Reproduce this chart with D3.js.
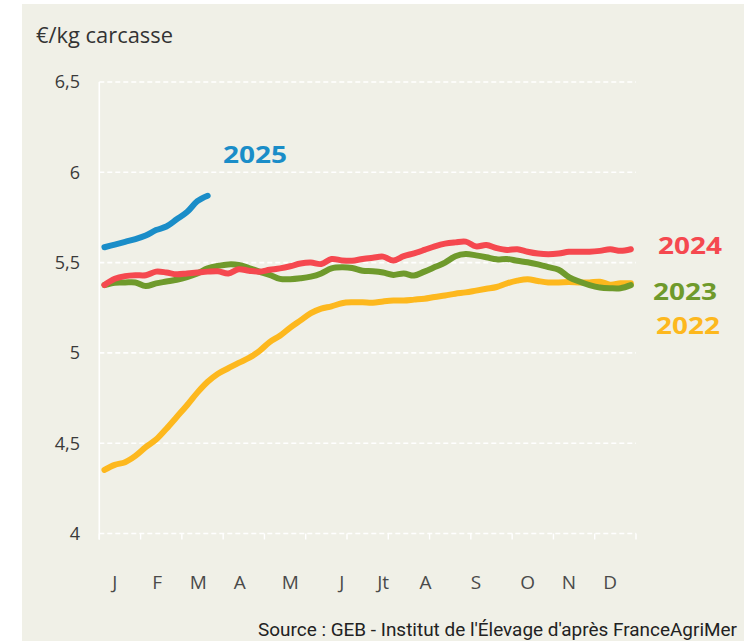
<!DOCTYPE html>
<html>
<head>
<meta charset="utf-8">
<script src="https://cdn.jsdelivr.net/npm/d3@7"></script>
<style>
  body { margin: 0; background: #fff; }
  svg { display: block; }
</style>
</head>
<body>
<svg width="744" height="641"></svg>
<script>
var svg = d3.select("svg"),
    width  = +svg.attr("width"),
    height = +svg.attr("height");

// weekly prices, €/kg carcasse
var weeks = d3.range(1, 53);
var y2022 = [4.352, 4.38, 4.395, 4.43, 4.478, 4.52, 4.58, 4.645, 4.71, 4.78, 4.84, 4.885, 4.915,
             4.945, 4.972, 5.01, 5.06, 5.095, 5.14, 5.18, 5.22, 5.245, 5.258, 5.275, 5.28, 5.28,
             5.278, 5.285, 5.29, 5.29, 5.295, 5.30, 5.31, 5.318, 5.328, 5.335, 5.345, 5.355, 5.365,
             5.385, 5.40, 5.408, 5.398, 5.39, 5.39, 5.392, 5.39, 5.39, 5.394, 5.378, 5.385, 5.385];
var y2023 = [5.376, 5.389, 5.39, 5.39, 5.37, 5.385, 5.395, 5.405, 5.42, 5.44, 5.468, 5.482, 5.49,
             5.487, 5.47, 5.45, 5.432, 5.41, 5.408, 5.413, 5.422, 5.44, 5.468, 5.474, 5.47, 5.455,
             5.452, 5.445, 5.432, 5.44, 5.428, 5.45, 5.475, 5.50, 5.535, 5.547, 5.54, 5.53, 5.518,
             5.52, 5.51, 5.502, 5.49, 5.475, 5.46, 5.42, 5.395, 5.375, 5.362, 5.358, 5.358, 5.375];
var y2024 = [5.376, 5.41, 5.425, 5.43, 5.43, 5.45, 5.445, 5.435, 5.44, 5.445, 5.45, 5.452, 5.44,
             5.463, 5.455, 5.45, 5.46, 5.468, 5.48, 5.495, 5.50, 5.492, 5.52, 5.512, 5.51, 5.52,
             5.527, 5.533, 5.512, 5.536, 5.551, 5.57, 5.59, 5.605, 5.612, 5.616, 5.59, 5.597, 5.58,
             5.57, 5.574, 5.56, 5.55, 5.546, 5.55, 5.56, 5.56, 5.56, 5.565, 5.574, 5.565, 5.574];
var y2025 = [5.585, 5.60, 5.615, 5.63, 5.65, 5.68, 5.70, 5.74, 5.78, 5.84, 5.87];

var yTicks = [4, 4.5, 5, 5.5, 6, 6.5];
var xTicks = d3.range(0.5, 53, 4);   // 4-week periods
var monthLabels = ["J", "F", "M", "A", "M", "J", "Jt", "A", "S", "O", "N", "D"];
var monthPos = [2, 6.1, 10.1, 14.1, 19, 24, 28, 32.1, 37, 42, 46, 50];

var series = [
  {name: "2022", values: y2022, color: "#fdb81e", lx: 656, ly: 334},
  {name: "2023", values: y2023, color: "#6f9a2c", lx: 653, ly: 300},
  {name: "2024", values: y2024, color: "#f5484f", lx: 658, ly: 254},
  {name: "2025", values: y2025, color: "#1a8dc8", lx: 223, ly: 163}
];

var x = d3.scaleLinear().domain([0.5, 52.5]).range([99.3, 636]);
var y = d3.scaleLinear().domain([4, 6.5]).range([533.5, 82]);

// panel
svg.append("rect")
  .attr("x", 22).attr("y", 4)
  .attr("width", width - 22).attr("height", height - 4)
  .attr("fill", "#f0f0e7");

svg.append("text")
  .attr("x", 36).attr("y", 43)
  .style("font", "21px 'Open Sans'")
  .attr("fill", "#333")
  .attr("textLength", 137)
  .attr("lengthAdjust", "spacingAndGlyphs")
  .text("€/kg carcasse");

// horizontal dashed grid
svg.append("g")
  .selectAll("line")
  .data(yTicks)
  .enter().append("line")
  .attr("x1", x(0.5)).attr("x2", x(52.5))
  .attr("y1", function(d) { return y(d); })
  .attr("y2", function(d) { return y(d); })
  .attr("stroke", "#fff")
  .attr("stroke-width", 1.6)
  .attr("stroke-dasharray", "5,3");

// y axis line
svg.append("line")
  .attr("x1", x(0.5)).attr("x2", x(0.5))
  .attr("y1", y(6.5)).attr("y2", y(4) + 6)
  .attr("stroke", "#fff")
  .attr("stroke-width", 1.6);

// x ticks
svg.append("g")
  .selectAll("line")
  .data(xTicks)
  .enter().append("line")
  .attr("x1", function(d) { return x(d); })
  .attr("x2", function(d) { return x(d); })
  .attr("y1", y(4)).attr("y2", y(4) + 6)
  .attr("stroke", "#fff")
  .attr("stroke-width", 1.4);

// y labels
svg.append("g")
  .selectAll("text")
  .data(yTicks)
  .enter().append("text")
  .attr("x", 80)
  .attr("y", function(d) { return y(d); })
  .attr("dy", "0.36em")
  .attr("text-anchor", "end")
  .style("font", "18px 'Open Sans'")
  .attr("fill", "#3a3a3a")
  .text(function(d) { return String(d).replace(".", ","); });

// month labels
svg.append("g")
  .selectAll("text")
  .data(monthLabels)
  .enter().append("text")
  .attr("x", function(d, i) { return x(monthPos[i]); })
  .attr("y", 589)
  .attr("text-anchor", "middle")
  .style("font", "19px 'Open Sans'")
  .attr("fill", "#4a4a4a")
  .text(function(d) { return d; });

var line = d3.line()
  .x(function(d, i) { return x(weeks[i]); })
  .y(function(d) { return y(d); })
  .curve(d3.curveCatmullRom);

svg.append("g")
  .selectAll("path")
  .data(series)
  .enter().append("path")
  .attr("d", function(d) { return line(d.values); })
  .attr("fill", "none")
  .attr("stroke", function(d) { return d.color; })
  .attr("stroke-width", 6)
  .attr("stroke-linecap", "round")
  .attr("stroke-linejoin", "round");

svg.append("g")
  .selectAll("text")
  .data(series)
  .enter().append("text")
  .attr("x", function(d) { return d.lx; })
  .attr("y", function(d) { return d.ly; })
  .style("font", "bold 24px 'Open Sans'")
  .attr("fill", function(d) { return d.color; })
  .attr("textLength", 64)
  .attr("lengthAdjust", "spacingAndGlyphs")
  .text(function(d) { return d.name; });

svg.append("text")
  .attr("x", 258).attr("y", 636)
  .style("font", "18px Roboto")
  .attr("fill", "#222")
  .attr("textLength", 479)
  .attr("lengthAdjust", "spacingAndGlyphs")
  .text("Source : GEB - Institut de l'Élevage d'après FranceAgriMer");
</script>
</body>
</html>
